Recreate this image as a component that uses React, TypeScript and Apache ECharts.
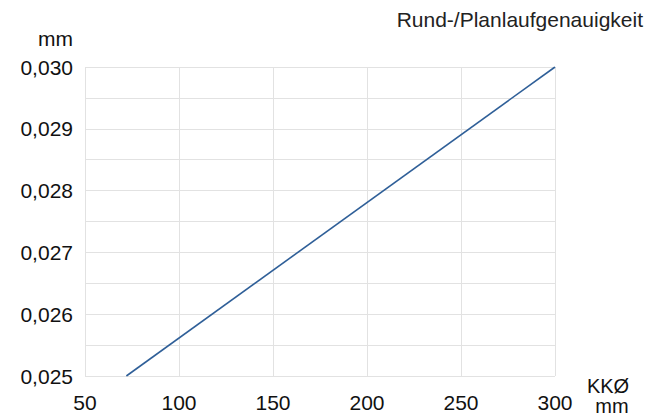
import React, { useEffect, useRef } from "react";
import * as echarts from "echarts";

const xValues = [72, 300];
const yValues = [0.025, 0.03];
const xTicks = [50, 100, 150, 200, 250, 300];
const yTickLabels = ["0,025", "0,026", "0,027", "0,028", "0,029", "0,030"];
const title = "Rund-/Planlaufgenauigkeit";
const yUnit = "mm";
const xName = "KKØ";
const xUnit = "mm";

export default function App() {
  const ref = useRef<HTMLDivElement>(null);
  useEffect(() => {
    if (!ref.current) return;
    const chart = echarts.init(ref.current, null, { renderer: "svg" });
    const font = "Liberation Sans, Arial, Helvetica, sans-serif";
    chart.setOption({
      animation: false,
      backgroundColor: "#ffffff",
      grid: { left: 85, right: 96, top: 67, bottom: 41, containLabel: false },
      xAxis: {
        type: "value",
        min: xTicks[0],
        max: xTicks[xTicks.length - 1],
        interval: 50,
        axisLine: { show: false },
        axisTick: { show: false },
        axisLabel: { color: "#111", fontSize: 21, fontFamily: font, margin: 16 },
        splitLine: { show: true, lineStyle: { color: "#e2e2e2", width: 1 } },
      },
      yAxis: {
        type: "value",
        min: 0.025,
        max: 0.03,
        interval: 0.0005,
        axisLine: { show: false },
        axisTick: { show: false },
        axisLabel: {
          color: "#111",
          fontSize: 21,
          fontFamily: font,
          margin: 12,
          formatter: (v: number) => {
            const k = Math.round(v * 10000);
            if (k % 10 !== 0) return "";
            const idx = Math.round((v - 0.025) / 0.001);
            return yTickLabels[idx] ?? "";
          },
        },
        splitLine: { show: true, lineStyle: { color: "#e2e2e2", width: 1 } },
      },
      series: [
        {
          type: "line",
          data: xValues.map((x, i) => [x, yValues[i]]),
          symbol: "none",
          lineStyle: { color: "#2f5f98", width: 1.6 },
        },
      ],
      graphic: [
        {
          type: "text",
          right: 8,
          top: 9,
          style: { text: title, fill: "#222", font: `21px ${font}` },
        },
        {
          type: "text",
          left: 38,
          top: 28,
          style: { text: yUnit, fill: "#111", font: `21px ${font}` },
        },
        {
          type: "text",
          x: 608,
          y: 376,
          style: { text: xName, fill: "#111", font: `20px ${font}`, align: "center", verticalAlign: "top" },
        },
        {
          type: "text",
          x: 612,
          y: 396,
          style: { text: xUnit, fill: "#111", font: `20px ${font}`, align: "center", verticalAlign: "top" },
        },
      ],
    });
    return () => chart.dispose();
  }, []);
  return <div ref={ref} style={{ width: 651, height: 417, position: "absolute", left: 0, top: 0 }} />;
}
